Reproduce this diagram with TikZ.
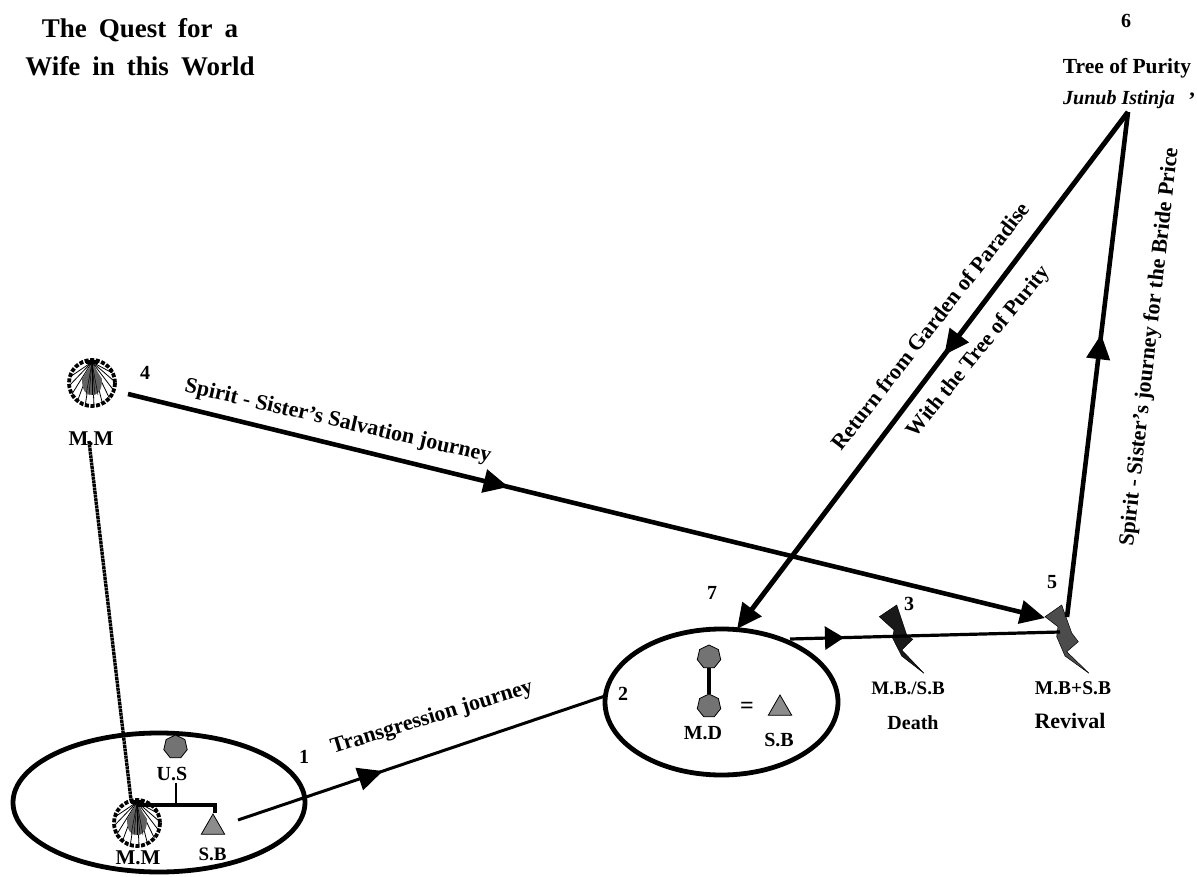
\documentclass[tikz,border=0pt]{standalone}
\usepackage{fontspec}
\setmainfont{Liberation Serif}
\usetikzlibrary{shapes.geometric,arrows.meta,decorations.markings}
\newcommand{\fs}[1]{\bfseries\fontsize{#1}{#1}\selectfont}
\tikzset{
  lbl/.style={font=\fs{20},inner sep=0pt},
  ttl/.style={font=\bfseries\fontsize{27}{38}\selectfont,inner sep=0pt,align=center},
  ring/.style={draw,line width=4.8pt,ellipse,inner sep=0pt},
  hep/.style={regular polygon,regular polygon sides=7,draw,line width=.8pt,fill=black!55,minimum size=24pt,inner sep=0pt},
  tri/.style={regular polygon,regular polygon sides=3,draw,line width=.8pt,fill=black!45,minimum size=27pt,inner sep=0pt},
  road/.style={line width=4.6pt},
  midtip/.style={postaction={decorate},decoration={markings,mark=at position #1 with {\arrow{Triangle[length=25pt,width=23pt]}}}},
  shorttip/.style={postaction={decorate},decoration={markings,mark=at position #1 with {\arrow{Triangle[length=19pt,width=23pt]}}}},
  endtip/.style={-{Triangle[length=25pt,width=23pt]}},
  bolt/.style={draw,line width=.5pt,fill=#1}
}
\newcommand{\shellmark}[2]{%
  \begin{scope}[shift={(#1,#2)}]
    \fill[white] (0,0) circle (23);
    \draw[line width=3.8pt,dash pattern=on 4pt off 1.6pt] (0,0) circle (23);
    \foreach \a in {-25,-3,...,205}{\draw[line width=.8pt] (0,-21) -- ({23*cos(\a)},{23*sin(\a)});}
    \fill[black!62] (-10,-4) .. controls (-10,8) and (-6,12) .. (0,12) .. controls (6,12) and (10,8) .. (10,-4) -- (0,-20) -- cycle;
    \foreach \b in {-6,-3,0,3,6}{\draw[line width=.5pt] (0,-20) -- (\b,12);}
    \fill (-6,-23) rectangle (6,-19);
  \end{scope}}
\begin{document}
\begin{tikzpicture}[x=1pt,y=-1pt]
\useasboundingbox (0,0) rectangle (1197,877);
% title
\node[ttl] (title) at (140,47) {\spaceskip=12pt\relax The Quest for a\\\spaceskip=12pt\relax Wife in this World};
% rings
\node[ring,minimum width=292pt,minimum height=139pt] (ringA) at (159,802.5) {};
\node[ring,minimum width=233pt,minimum height=146pt] (ringB) at (721.5,702) {};
% shells
\shellmark{92}{383}
\shellmark{137}{823}
\coordinate (shellLow) at (137,805);
\coordinate (dotEnd) at (131,800);
\coordinate (mmFoot) at (89,441);
\node[lbl,font=\fs{21}] (mmTop) at (91,439) {M.M};
\node[lbl,font=\fs{21}] (mmLow) at (138,858) {M.M};
% family in ring A
\node[hep] (us) at (175.5,747) {};
\node[lbl] (usL) at (172,774) {U.S};
\node[tri] (sbA) at (213,827.5) {};
\node[lbl,font=\fs{19}] (sbAL) at (212.5,854) {S.B};
\coordinate (bar) at (176,805);
\coordinate (barEnd) at (215,805);
\coordinate (stemTop) at (176,783);
\draw[line width=3.8pt] (shellLow) -- (bar) -- (barEnd) -- (barEnd |- sbA.north);
\draw[line width=2pt] (stemTop) -- (bar);
\draw[line width=3.4pt,dash pattern=on 3pt off .6pt] (mmFoot) -- (dotEnd);
% family in ring B
\node[hep] (mdTop) at (709,657) {};
\node[hep] (mdLow) at (709,706) {};
\draw[line width=4.5pt] (mdTop) -- (mdLow);
\node[lbl] (mdL) at (703,733) {M.D};
\node[lbl,font=\fs{24}] (eq) at (747,708) {=};
\node[tri] (sbB) at (780,708.5) {};
\node[lbl] (sbBL) at (779,740) {S.B};
% bolts
\draw[bolt=black!90] (879.3,616.7) -- (896.7,605) -- (906.7,635) -- (912.7,639.3) -- (901.7,650) -- (924,673.3) -- (901.7,656) -- (892.7,638.3) -- (894,630) -- cycle;
\draw[bolt=black!70] (1045,616.7) -- (1061.7,605) -- (1071.7,633) -- (1078.3,641.7) -- (1066.7,651.7) -- (1089,673.3) -- (1065,656) -- (1056.7,636.7) -- (1058,626.7) -- cycle;
\coordinate (boltB) at (1060,632);
% free ends
\coordinate (apex) at (1128,112);
\coordinate (startFour) at (128,394);
\coordinate (startOne) at (238,820);
\coordinate (endOne) at (605,696);
\coordinate (startThree) at (790,639);
\coordinate (arrive) at (737,629);
\coordinate (ctop) at (1067,617);
\coordinate (fourEnd) at (1045,618);
% connectors
\draw[line width=3pt,midtip=.395] (startOne) -- (endOne);
\draw[line width=3.2pt,shorttip=.2] (startThree) -- (boltB);
\draw[road,midtip=.415,endtip] (startFour) -- (fourEnd);
\draw[road,midtip=.56] (ctop) -- (apex);
\draw[line width=5pt,midtip=.47,endtip] (apex) -- (arrive);
% labels
\node[lbl] (n1) at (304,757) {1};
\node[lbl] (n2) at (623,694) {2};
\node[lbl] (n3) at (909,604) {3};
\node[lbl] (n4) at (145,373) {4};
\node[lbl] (n5) at (1052,582) {5};
\node[lbl] (n6) at (1126,21) {6};
\node[lbl] (n7) at (712,593) {7};
\node[lbl,font=\fs{21.5}] (tp) at (1127,68) {Tree of Purity};
\node[lbl,font=\bfseries\itshape\fontsize{20}{20}\selectfont] (jun) at (1119,100) {Junub Istinja};
\node[lbl,font=\fs{22}] (apos) at (1192,100) {’};
\node[lbl,font=\fs{22},rotate=17] (tj) at (432,718) {Transgression journey};
\node[lbl,font=\fs{22},rotate=-13] (ss) at (338,422) {Spirit - Sister's Salvation journey};
\node[lbl,font=\fs{22},rotate=52] (rg) at (930,326) {Return from Garden of Paradise};
\node[lbl,font=\fs{21.5},rotate=51] (wt) at (979,352) {With the Tree of Purity};
\node[lbl,font=\fs{22},rotate=83.6] (sj) at (1150,347) {Spirit - Sister's journey for the Bride Price};
\node[lbl,font=\fs{19}] (dA) at (908,688) {M.B./S.B};
\node[lbl] (dB) at (913,723) {Death};
\node[lbl,font=\fs{19.5}] (rA) at (1073,688) {M.B+S.B};
\node[lbl,font=\fs{22}] (rB) at (1070,721) {Revival};
\end{tikzpicture}
\end{document}
